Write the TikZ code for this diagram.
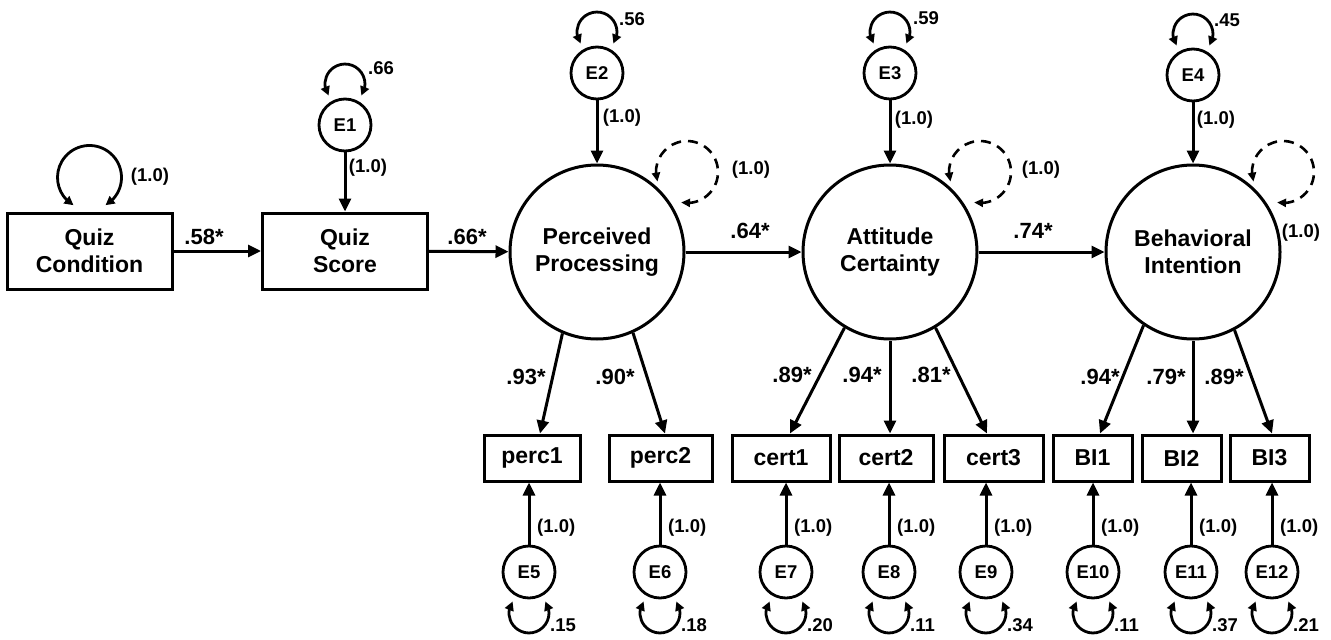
\documentclass[tikz,border=0pt]{standalone}
\usepackage{fontspec}
\setmainfont{Liberation Sans}
\usetikzlibrary{arrows.meta,bending}
\begin{document}
\begin{tikzpicture}[x=1pt,y=1pt,
  big/.style={font=\fontsize{23}{27}\selectfont\bfseries, align=center},
  obsbox/.style={big, draw, line width=3pt, inner sep=0pt},
  latent/.style={big, draw, circle, line width=3pt, minimum size=174pt, inner sep=0pt},
  err/.style={draw, circle, line width=2.8pt, minimum size=52pt, inner sep=0pt, font=\fontsize{18.5}{20}\selectfont\bfseries},
  coef/.style={font=\fontsize{22}{24}\selectfont\bfseries, inner sep=0pt},
  small/.style={font=\fontsize{18.5}{20}\selectfont\bfseries, inner sep=0pt},
  causal/.style={line width=3pt, -{Triangle[length=13pt,width=12pt]}},
  selfloop/.style={line width=2.8pt, {Triangle[length=9pt,width=9pt,flex]}-{Triangle[length=9pt,width=9pt,flex]}},
  dloop/.style={line width=2.6pt, dash pattern=on 10pt off 7pt, {Triangle[length=9pt,width=8pt,flex]}-{Triangle[length=9pt,width=8pt,flex]}}
]
\useasboundingbox (0,0) rectangle (1331,-640);

% structural nodes
\node[obsbox, minimum width=165pt, minimum height=76pt] (QC) at (89.5,-251) {Quiz\\Condition};
\node[obsbox, minimum width=165pt, minimum height=76pt] (QS) at (345,-251) {Quiz\\Score};
\node[latent] (PP) at (597,-252) {Perceived\\Processing};
\node[latent] (AC) at (890,-252) {Attitude\\Certainty};
\node[latent] (BI) at (1193,-252) {Behavioral\\Intention};

% upper error terms
\node[err] (E1) at (345,-125) {E1};
\node[err] (E2) at (597,-73) {E2};
\node[err] (E3) at (890,-73) {E3};
\node[err] (E4) at (1193,-75) {E4};

% indicators
\node[obsbox, minimum width=96pt, minimum height=46pt] (perc1) at (532,-458) {perc1};
\node[obsbox, minimum width=103pt, minimum height=46pt] (perc2) at (660.5,-458) {perc2};
\node[obsbox, minimum width=98pt, minimum height=46pt] (cert1) at (781,-458) {cert1};
\node[obsbox, minimum width=94pt, minimum height=46pt] (cert2) at (886,-458) {cert2};
\node[obsbox, minimum width=99pt, minimum height=46pt] (cert3) at (993.5,-458) {cert3};
\node[obsbox, minimum width=79pt, minimum height=46pt] (BI1) at (1092.5,-458) {BI1};
\node[obsbox, minimum width=79pt, minimum height=46pt] (BI2) at (1181.5,-458) {BI2};
\node[obsbox, minimum width=79pt, minimum height=46pt] (BI3) at (1269.5,-458) {BI3};

% lower error terms
\node[err] (E5) at (529,-572) {E5};
\node[err] (E6) at (660,-572) {E6};
\node[err] (E7) at (786,-572) {E7};
\node[err] (E8) at (889,-572) {E8};
\node[err] (E9) at (986,-572) {E9};
\node[err] (E10) at (1093,-572) {E10};
\node[err] (E11) at (1191,-572) {E11};
\node[err] (E12) at (1272,-572) {E12};

% structural paths
\draw[causal] (QC) -- (QS);
\draw[causal] (QS) -- (PP);
\draw[causal] (PP) -- (AC);
\draw[causal] (AC) -- (BI);
\draw[causal] (E1) -- (QS);
\draw[causal] (E2) -- (PP);
\draw[causal] (E3) -- (AC);
\draw[causal] (E4) -- (BI);

% loadings
\draw[causal] (PP.247) -- ([xshift=8pt]perc1.north);
\draw[causal] (PP.294) -- ([xshift=4.5pt]perc2.north);
\draw[causal] (AC.239) -- ([xshift=9pt]cert1.north);
\draw[causal] (AC.south) -- (AC.south |- cert2.north);
\draw[causal] (AC.301.6) -- ([xshift=-6.5pt]cert3.north);
\draw[causal] (BI.236.8) -- ([xshift=7.5pt]BI1.north);
\draw[causal] (BI.south) -- (BI.south |- BI2.north);
\draw[causal] (BI.298.5) -- ([xshift=2.5pt]BI3.north);

% measurement errors
\foreach \e/\b in {E5/perc1,E6/perc2,E7/cert1,E8/cert2,E9/cert3,E10/BI1,E11/BI2,E12/BI3}{
  \draw[causal] (\e) -- (\e |- \b.south);
  \draw[selfloop] ([shift={(-16.4,-29.5)}]\e.center) arc[start angle=145,end angle=395,radius=20];
}

% upper self loops
\foreach \e in {E1,E2,E3,E4}{
  \draw[selfloop] ([shift={(-16.4,29.5)}]\e.center) arc[start angle=215,end angle=-35,radius=20];
}
\draw[selfloop] ([shift={(-16,6.3)}]QC.north) arc[start angle=240,end angle=-60,radius=32];

% dashed disturbance loops
\foreach \l in {PP,AC,BI}{
  \draw[dloop] ([shift={(60.5,70.4)}]\l.center) arc[start angle=198,end angle=-101,radius=31];
}

% labels
\node[small] (lqc) at (150,-177) {(1.0)};
\node[small] (le1) at (368,-168) {(1.0)};
\node[small] (le2) at (622,-118) {(1.0)};
\node[small] (le3) at (914,-120) {(1.0)};
\node[small] (le4) at (1216,-120) {(1.0)};
\node[small] (v1) at (381,-68) {.66};
\node[small] (v2) at (632,-19) {.56};
\node[small] (v3) at (926,-18) {.59};
\node[small] (v4) at (1227,-20) {.45};
\node[small] (dpp) at (751,-170) {(1.0)};
\node[small] (dac) at (1041,-170) {(1.0)};
\node[small] (dbi) at (1301,-233) {(1.0)};

\node[coef] (c1) at (204,-237) {.58*};
\node[coef] (c2) at (467,-237) {.66*};
\node[coef] (c3) at (750,-231) {.64*};
\node[coef] (c4) at (1033,-231) {.74*};

\node[coef] (l1) at (526,-377) {.93*};
\node[coef] (l2) at (615,-377) {.90*};
\node[coef] (l3) at (792,-375) {.89*};
\node[coef] (l4) at (862,-375) {.94*};
\node[coef] (l5) at (931,-375) {.81*};
\node[coef] (l6) at (1100,-377) {.94*};
\node[coef] (l7) at (1166,-377) {.79*};
\node[coef] (l8) at (1224,-377) {.89*};

\foreach \e/\v in {E5/.15,E6/.18,E7/.20,E8/.11,E9/.34,E10/.11,E11/.37,E12/.21}{
  \node[small, anchor=west] (w\e) at ([shift={(8,44)}]\e.center) {(1.0)};
  \node[small, anchor=west] (r\e) at ([shift={(21,-53)}]\e.center) {\v};
}
\end{tikzpicture}
\end{document}
